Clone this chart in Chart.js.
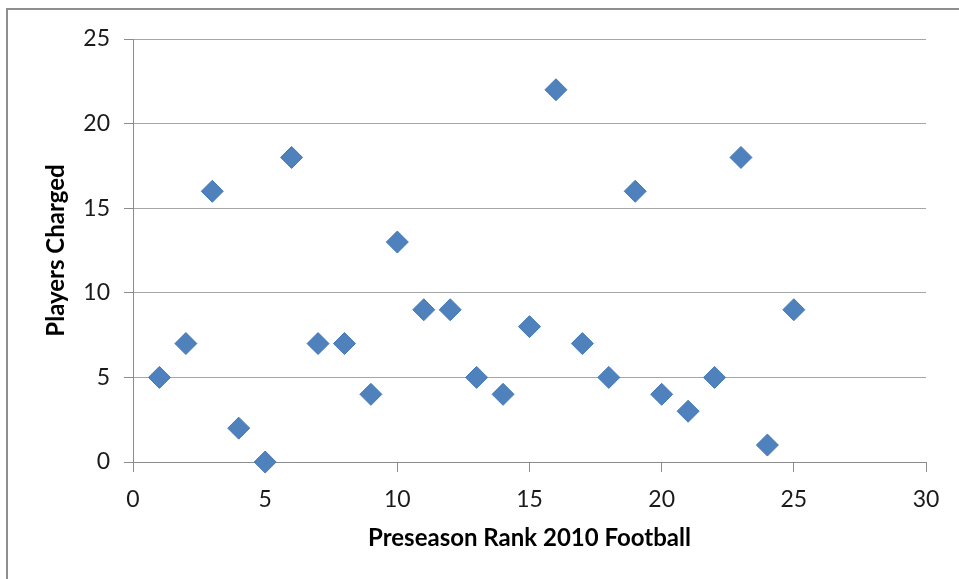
<!DOCTYPE html>
<html>
<head>
<meta charset="utf-8">
<script src="https://cdn.jsdelivr.net/npm/chart.js@4.4.0/dist/chart.umd.min.js"></script>
<style>
  html, body { margin: 0; padding: 0; background: #fff; overflow: hidden; }
  #frame { position: absolute; left: 6px; top: 8px; width: 1000px; height: 700px; border: 2px solid #8e8e8e; box-sizing: border-box; }
  #wrap { position: absolute; left: 0; top: 0; width: 959px; height: 579px; }
</style>
</head>
<body>
<div id="frame"></div>
<div id="wrap"><canvas id="chart" width="959" height="579"></canvas></div>
<script>
// preseason rank vs number of players charged
const ranks = [1, 2, 3, 4, 5, 6, 7, 8, 9, 10, 11, 12, 13, 14, 15, 16, 17, 18, 19, 20, 21, 22, 23, 24, 25];
const charged = [5, 7, 16, 2, 0, 18, 7, 7, 4, 13, 9, 9, 5, 4, 8, 22, 7, 5, 16, 4, 3, 5, 18, 1, 9];
const xTitle = 'Preseason Rank 2010 Football';
const yTitle = 'Players Charged';

const points = ranks.map((r, i) => ({ x: r, y: charged[i] }));
const gridCol = '#a6a6a6';
const axisCol = '#8c8c8c';
const font = "Lato, 'DejaVu Sans', sans-serif";

new Chart(document.getElementById('chart').getContext('2d'), {
  type: 'scatter',
  data: {
    datasets: [{
      data: points,
      pointStyle: 'rectRot',
      pointRadius: 11,
      pointHoverRadius: 11,
      backgroundColor: '#4f81bd',
      borderColor: '#4679b6',
      borderWidth: 1,
      clip: false
    }]
  },
  options: {
    responsive: false,
    animation: false,
    devicePixelRatio: 1,
    layout: { padding: { left: 0, right: 33, top: 39, bottom: 0 } },
    plugins: { legend: { display: false }, tooltip: { enabled: false } },
    scales: {
      x: {
        type: 'linear',
        min: 0, max: 30,
        ticks: { stepSize: 5, padding: 14, color: '#1a1a1a', font: { family: font, size: 23 } },
        grid: { drawOnChartArea: false, drawTicks: true, tickLength: 10, color: axisCol },
        border: { color: axisCol, width: 1 },
        title: { display: true, text: xTitle, color: '#000', font: { family: font, size: 24, weight: 'bold' }, padding: { top: 0, bottom: 26 } },
        afterFit: (s) => { s.height = 117; }
      },
      y: {
        type: 'linear',
        min: 0, max: 25,
        ticks: { stepSize: 5, padding: 14, color: '#1a1a1a', font: { family: font, size: 23 } },
        grid: { color: gridCol, tickLength: 9, tickColor: axisCol },
        border: { color: axisCol, width: 1 },
        title: { display: true, text: yTitle, color: '#000', font: { family: font, size: 24, weight: 'bold' }, padding: { top: 42, bottom: 0 } },
        afterFit: (s) => { s.width = 133; }
      }
    }
  }
});
</script>
</body>
</html>
